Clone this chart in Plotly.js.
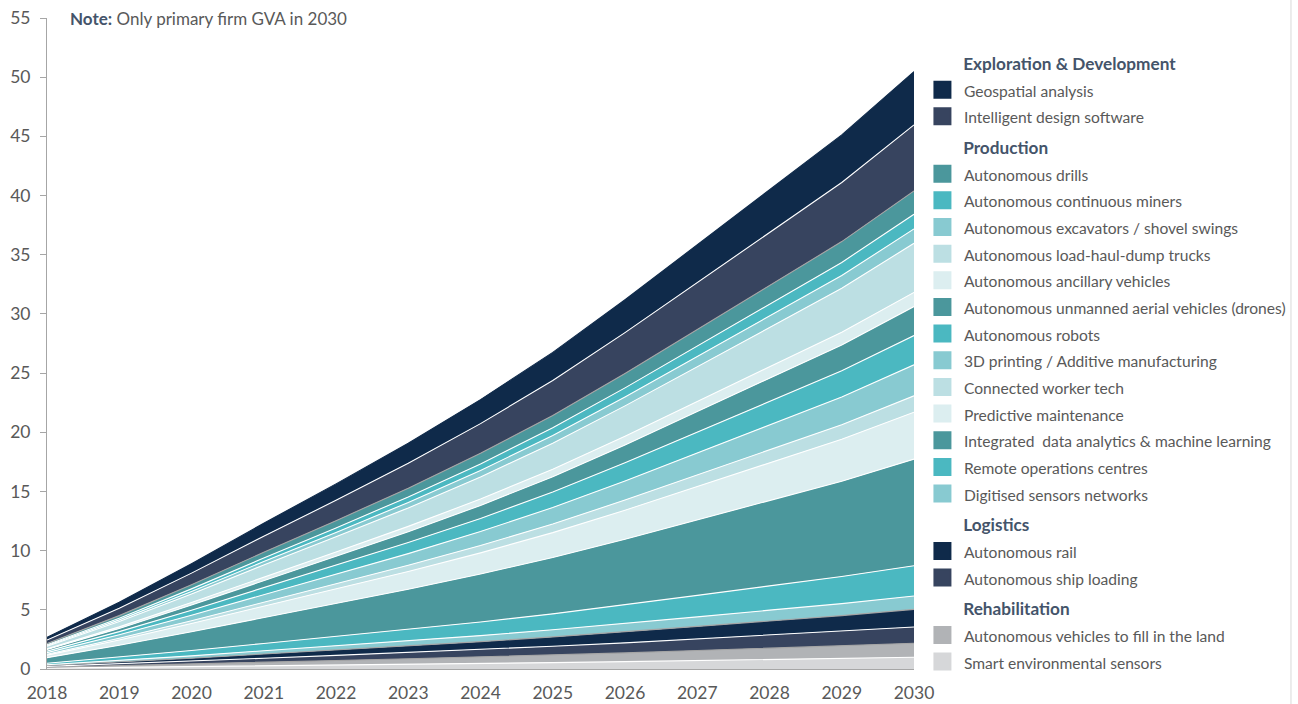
<!DOCTYPE html>
<html>
<head>
<meta charset="utf-8">
<script src="https://cdn.plot.ly/plotly-3.0.1.min.js"></script>
<style>
  html, body { margin: 0; padding: 0; background: #ffffff; }
  #chart { width: 1298px; height: 704px; }
</style>
</head>
<body>
<div id="chart"></div>
<script>
// ---- Data (GVA, A$ billion) ----
const years = [2018, 2019, 2020, 2021, 2022, 2023, 2024, 2025, 2026, 2027, 2028, 2029, 2030];

// stacked bottom -> top
const smartEnvironmentalSensors = [0.07, 0.13, 0.19, 0.26, 0.33, 0.40, 0.47, 0.54, 0.62, 0.71, 0.80, 0.89, 0.99];
const vehiclesFillLand          = [0.08, 0.15, 0.22, 0.31, 0.39, 0.47, 0.55, 0.65, 0.74, 0.85, 0.96, 1.06, 1.18];
const autonomousShipLoading     = [0.07, 0.15, 0.24, 0.34, 0.43, 0.52, 0.62, 0.73, 0.85, 0.98, 1.11, 1.23, 1.38];
const autonomousRail            = [0.08, 0.17, 0.26, 0.36, 0.46, 0.56, 0.67, 0.79, 0.92, 1.06, 1.19, 1.33, 1.49];
const digitisedSensorsNetworks  = [0.06, 0.13, 0.20, 0.27, 0.35, 0.43, 0.51, 0.60, 0.70, 0.80, 0.91, 1.01, 1.13];
const remoteOperationsCentres   = [0.13, 0.28, 0.45, 0.62, 0.79, 0.97, 1.15, 1.35, 1.58, 1.82, 2.05, 2.29, 2.56];
const integratedDataAnalytics   = [0.47, 1.00, 1.58, 2.19, 2.78, 3.39, 4.05, 4.76, 5.56, 6.39, 7.22, 8.05, 9.00];
const predictiveMaintenance     = [0.21, 0.44, 0.70, 0.96, 1.23, 1.50, 1.79, 2.10, 2.45, 2.82, 3.18, 3.55, 3.97];
const connectedWorkerTech       = [0.07, 0.15, 0.24, 0.34, 0.43, 0.52, 0.62, 0.73, 0.85, 0.98, 1.11, 1.23, 1.38];
const printing3D                = [0.14, 0.29, 0.46, 0.64, 0.81, 0.99, 1.18, 1.39, 1.62, 1.86, 2.10, 2.34, 2.62];
const autonomousRobots          = [0.13, 0.27, 0.43, 0.60, 0.76, 0.93, 1.11, 1.31, 1.53, 1.75, 1.98, 2.21, 2.47];
const autonomousDrones          = [0.13, 0.27, 0.43, 0.60, 0.76, 0.92, 1.10, 1.30, 1.51, 1.74, 1.96, 2.19, 2.45];
const ancillaryVehicles         = [0.06, 0.13, 0.21, 0.29, 0.37, 0.45, 0.54, 0.63, 0.74, 0.85, 0.96, 1.07, 1.20];
const loadHaulDumpTrucks        = [0.22, 0.46, 0.73, 1.01, 1.28, 1.56, 1.87, 2.20, 2.56, 2.95, 3.33, 3.71, 4.15];
const excavatorsShovelSwings    = [0.06, 0.13, 0.21, 0.29, 0.37, 0.46, 0.54, 0.64, 0.75, 0.86, 0.97, 1.08, 1.21];
const continuousMiners          = [0.07, 0.14, 0.22, 0.30, 0.38, 0.47, 0.56, 0.66, 0.77, 0.88, 0.99, 1.11, 1.24];
const autonomousDrills          = [0.10, 0.22, 0.35, 0.48, 0.61, 0.74, 0.89, 1.04, 1.22, 1.40, 1.58, 1.76, 1.97];
const intelligentDesignSoftware = [0.29, 0.62, 0.98, 1.36, 1.72, 2.10, 2.51, 2.95, 3.45, 3.96, 4.48, 4.99, 5.58];
const geospatialAnalysis        = [0.24, 0.50, 0.79, 1.09, 1.39, 1.70, 2.03, 2.38, 2.78, 3.20, 3.61, 4.02, 4.50];

const seriesNames = [
  'Smart environmental sensors', 'Autonomous vehicles to fill in the land',
  'Autonomous ship loading', 'Autonomous rail',
  'Digitised sensors networks', 'Remote operations centres',
  'Integrated  data analytics & machine learning', 'Predictive maintenance',
  'Connected worker tech', '3D printing / Additive manufacturing',
  'Autonomous robots', 'Autonomous unmanned aerial vehicles (drones)',
  'Autonomous ancillary vehicles', 'Autonomous load-haul-dump trucks',
  'Autonomous excavators / shovel swings', 'Autonomous continuous miners',
  'Autonomous drills', 'Intelligent design software', 'Geospatial analysis'
];
const seriesValues = [
  smartEnvironmentalSensors, vehiclesFillLand, autonomousShipLoading, autonomousRail,
  digitisedSensorsNetworks, remoteOperationsCentres, integratedDataAnalytics, predictiveMaintenance,
  connectedWorkerTech, printing3D, autonomousRobots, autonomousDrones, ancillaryVehicles,
  loadHaulDumpTrucks, excavatorsShovelSwings, continuousMiners, autonomousDrills,
  intelligentDesignSoftware, geospatialAnalysis
];
const seriesGroups = [
  'Rehabilitation', 'Rehabilitation', 'Logistics', 'Logistics',
  'Production', 'Production', 'Production', 'Production', 'Production', 'Production',
  'Production', 'Production', 'Production', 'Production', 'Production', 'Production', 'Production',
  'Exploration & Development', 'Exploration & Development'
];
// legend order (top to bottom)
const legendOrder = [18, 17, 16, 15, 14, 13, 12, 11, 10, 9, 8, 7, 6, 5, 4, 3, 2, 1, 0];

// ---- Styles ----
const seriesColors = [
  '#D6D7D9', '#B1B3B6', '#37445F', '#0F2A4A',
  '#88CAD1', '#4BB8C1', '#4B979C', '#DCEEF0', '#BCDFE3', '#88CAD1',
  '#4BB8C1', '#4B979C', '#DCEEF0', '#BCDFE3', '#88CAD1', '#4BB8C1', '#4B979C',
  '#37445F', '#0F2A4A'
];
const lineColors = [
  '#FFFFFF', '#A5A5A5', '#FFFFFF', '#A5A5A5',
  '#FFFFFF', '#FFFFFF', '#FFFFFF', '#FFFFFF', '#FFFFFF', '#FFFFFF',
  '#FFFFFF', '#FFFFFF', '#FFFFFF', '#FFFFFF', '#FFFFFF', '#FFFFFF', '#A5A5A5',
  '#FFFFFF', '#0F2A4A'
];

const FONT = 'Lato, "Open Sans", "Liberation Sans", sans-serif';
const GREY = '#595959';
const TITLE = '#44546A';
const IND = '\u00A0\u00A0\u00A0\u00A0\u00A0\u00A0\u00A0\u00A0';

const traces = [];
seriesValues.forEach((vals, i) => {
  traces.push({
    type: 'scatter', mode: 'lines', x: years, y: vals, name: seriesNames[i],
    stackgroup: 'one', fill: 'tonexty', fillcolor: seriesColors[i],
    line: { color: lineColors[i], width: 1.1 },
    showlegend: false, hoverinfo: 'skip'
  });
});
// legend entries (no data of their own)
legendOrder.forEach((idx, rank) => {
  traces.push({
    type: 'scatter', mode: 'markers', x: [null], y: [null],
    name: '<span style="font-size:15.6px">' + seriesNames[idx] + '</span>',
    legendgroup: seriesGroups[idx],
    legendgrouptitle: {
      text: IND + '<b><span style="font-size:17.2px">' + seriesGroups[idx] + '</span></b>',
      font: { family: FONT, size: 18.2, color: TITLE }
    },
    legendrank: rank + 1,
    marker: { symbol: 'square', size: 16, color: seriesColors[idx],
              line: { color: seriesColors[idx], width: 2 } },
    hoverinfo: 'skip', showlegend: true
  });
});

const layout = {
  width: 1298, height: 704,
  margin: { l: 47, r: 384, t: 18, b: 35, pad: 0, autoexpand: false },
  paper_bgcolor: '#FFFFFF', plot_bgcolor: '#FFFFFF',
  font: { family: FONT, color: GREY },
  hovermode: false,
  xaxis: {
    range: [2018, 2030], tickmode: 'array', tickvals: years, ticktext: years.map(String),
    showline: true, linecolor: '#A6A6A6', linewidth: 1, ticks: '',
    showgrid: false, zeroline: false, fixedrange: true,
    tickfont: { family: FONT, size: 17.5, color: GREY }, ticklabelstandoff: 8
  },
  yaxis: {
    range: [0, 55], dtick: 5, tick0: 0,
    showline: true, linecolor: '#A6A6A6', linewidth: 1,
    ticks: 'outside', ticklen: 6, tickcolor: '#A6A6A6', tickwidth: 1,
    showgrid: false, zeroline: false, fixedrange: true,
    tickfont: { family: FONT, size: 17.5, color: GREY }, ticklabelstandoff: 6
  },
  legend: {
    x: 1.008, xanchor: 'left', y: 0.959, yanchor: 'top',
    traceorder: 'grouped', tracegroupgap: 4, itemwidth: 33,
    font: { family: FONT, size: 18.2, color: GREY },
    bgcolor: 'rgba(0,0,0,0)', borderwidth: 0,
    itemclick: false, itemdoubleclick: false
  },
  annotations: [{
    xref: 'paper', yref: 'paper', x: 0.0242, y: 1.0, xanchor: 'left', yanchor: 'middle',
    showarrow: false, align: 'left',
    text: '<b><span style="color:' + TITLE + '">Note:</span></b> Only primary firm GVA in 2030',
    font: { family: FONT, size: 17, color: GREY }
  }],
  shapes: [{
    type: 'line', xref: 'paper', yref: 'paper',
    x0: 1.4348, x1: 1.4348, y0: -0.0538, y1: 1.0277,
    line: { color: '#D9D9D9', width: 1 }
  }]
};

Plotly.newPlot('chart', traces, layout, { displayModeBar: false, staticPlot: true });
</script>
</body>
</html>
